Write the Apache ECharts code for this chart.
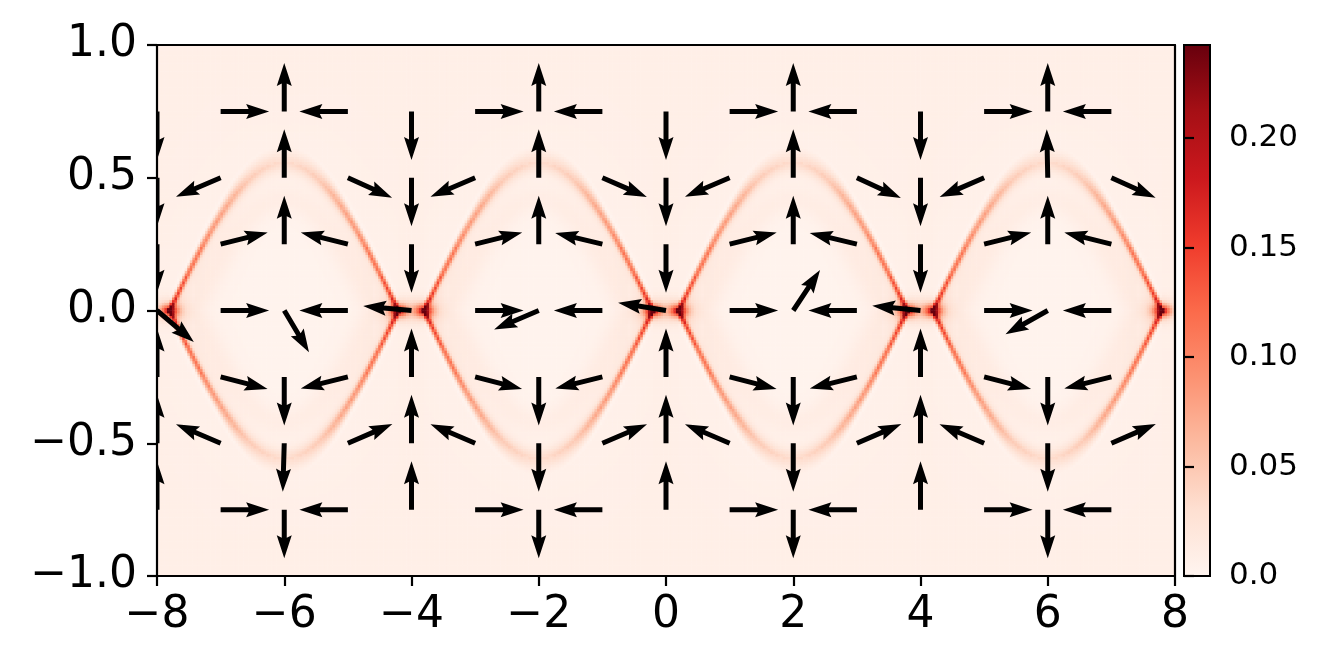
<!DOCTYPE html>
<html>
<head>
<meta charset="utf-8">
<title>field with quiver</title>
<script src="https://cdn.jsdelivr.net/npm/echarts@6.0.0/dist/echarts.min.js"></script>
<style>
  html, body { margin: 0; padding: 0; background: #fff; }
  #chart { width: 1333px; height: 666px; }
</style>
</head>
<body>
<div id="chart"></div>
<script>
// ---- quiver arrows (directions, rows top to bottom) ----
const qx = [-8, -7, -6, -5, -4, -3, -2, -1, 0, 1, 2, 3, 4, 5, 6, 7];
const qy = [0.75, 0.5, 0.25, 0, -0.25, -0.5, -0.75];
const qu = [
  [0, 1, 0, -1, 0, 1, 0, -1, 0, 1, 0, -1, 0, 1, 0, -1],
  [0, -0.92, 0, 0.91, 0, -0.92, 0, 0.92, 0, -0.92, 0, 0.91, 0, -0.92, -0.02, 0.91],
  [0, 0.97, 0, -0.97, 0, 0.97, 0, -0.97, 0, 0.97, 0, -0.97, 0, 0.97, 0, -0.97],
  [0.76, 1, 0.51, -1, -0.99, 1, -0.92, -1, -0.99, 1, 0.55, -1, -0.99, 1, -0.87, -1],
  [0, 0.97, 0, -0.97, 0, 0.97, 0, -0.97, 0, 0.97, 0, -0.97, 0, 0.97, 0, -0.97],
  [0, -0.92, -0.03, 0.92, 0, -0.92, 0, 0.92, 0, -0.92, 0, 0.92, 0, -0.92, 0, 0.92],
  [0, 1, 0, -1, 0, 1, 0, -1, 0, 1, 0, -1, 0, 1, 0, -1]
];
const qv = [
  [-1, 0, 1, 0, -1, 0, 1, 0, -1, 0, 1, 0, -1, 0, 1, 0],
  [-1, -0.39, 1, -0.41, -1, -0.39, 1, -0.40, -1, -0.39, 1, -0.42, -1, -0.40, 1, -0.41],
  [-1, 0.24, 1, 0.24, -1, 0.24, 1, 0.23, -1, 0.24, 1, 0.23, -1, 0.24, 1, 0.24],
  [-0.65, 0, -0.86, 0, 0.09, 0, -0.39, 0, 0.16, 0, 0.83, 0, 0.10, 0, -0.49, 0],
  [1, -0.25, -1, -0.24, 1, -0.25, -1, -0.24, 1, -0.25, -1, -0.24, 1, -0.25, -1, -0.24],
  [1, 0.39, -1, 0.40, 1, 0.39, -1, 0.39, 1, 0.39, -1, 0.40, 1, 0.39, -1, 0.40],
  [1, 0, -1, 0, 1, 0, -1, 0, 1, 0, -1, 0, 1, 0, -1, 0]
];

const eyeCenters = [-6, -2, 2, 6];
const eyeHalfWidth = 1.8;      // arcs meet at center +- 1.8 (hot spots)
const eyeHeight = 0.56;        // top of each arc
const innerHalfWidth = 1.4;    // faint inner ring
const innerHeight = 0.42;
const innerPeak = 0.007;
const arcT = [0, 0.3, 0.6, 0.85, 1];            // 0 = top of arc, 1 = hot spot
const arcPeak = [0.022, 0.035, 0.07, 0.11, 0.14];
const arcSigma = [7, 5, 2.6, 1.9, 1.8];         // px
const arcDip = [0, 0.003, 0.007, 0.008, 0.008];
const bgInside = 0.003;
const bgOutside = 0.009;
const spotPeak = 0.14;
const spotHalo = 0.045;
const vmax = 0.2425;

// ---- ticks ----
const xTicks = [-8, -6, -4, -2, 0, 2, 4, 6, 8];
const xTickLabels = ['\u22128', '\u22126', '\u22124', '\u22122', '0', '2', '4', '6', '8'];
const yTicks = [-1, -0.5, 0, 0.5, 1];
const yTickLabels = ['\u22121.0', '\u22120.5', '0.0', '0.5', '1.0'];
const cbTicks = [0, 0.05, 0.1, 0.15, 0.2];
const cbTickLabels = ['0.0', '0.05', '0.10', '0.15', '0.20'];
const reds = ['#fff5f0', '#fee0d2', '#fcbba1', '#fc9272', '#fb6a4a', '#ef3b2c', '#cb181d', '#a50f15', '#67000d'];

// ---- layout ----
const G = { left: 157, top: 45, width: 1018, height: 531 };
const CB = { left: 1184, top: 45, width: 26, height: 531 };
const KX = G.width / 16, KY = G.height / 2;   // px per data unit
const NX = 400, NY = 200;

function lookup(ts, vs, t) {
  for (let k = 1; k < ts.length; k++) {
    if (t <= ts[k]) {
      const f = (t - ts[k - 1]) / (ts[k] - ts[k - 1]);
      return vs[k - 1] + f * (vs[k] - vs[k - 1]);
    }
  }
  return vs[vs.length - 1];
}

// signed px distance to an arc (positive outside)
function arcDist(dx, ay, W, H) {
  const X = dx * KX, Y = ay * KY, Wp = W * KX, Hp = H * KY;
  if (Math.abs(X) >= Wp) return Math.hypot(Math.abs(X) - Wp, Y);
  const a = Math.PI / 2 * X / Wp;
  const yc = Hp * Math.cos(a);
  const s = Hp * Math.sin(a) * Math.PI / (2 * Wp);
  return (Y - yc) / Math.sqrt(1 + s * s);
}

function field(x, y) {
  let c = eyeCenters[0];
  for (const e of eyeCenters) if (Math.abs(x - e) < Math.abs(x - c)) c = e;
  const dx = x - c, ay = Math.abs(y);
  const t = Math.min(Math.abs(dx) / eyeHalfWidth, 1);
  const d = arcDist(dx, ay, eyeHalfWidth, eyeHeight);
  const p = lookup(arcT, arcPeak, t);
  const s = lookup(arcT, arcSigma, t);
  const dip = lookup(arcT, arcDip, t);
  let v = bgInside + (bgOutside - bgInside) / (1 + Math.exp(-d / 25));
  v += p * Math.exp(-0.5 * (d / s) ** 2);
  if (d < 0) v += p * 0.2 * Math.exp(d / 14);
  v -= dip * Math.exp(-0.5 * ((d - 2.4 * s) / 1.3) ** 2);
  const d2 = arcDist(dx, ay, innerHalfWidth, innerHeight);
  v += innerPeak * Math.exp(-0.5 * (d2 / 9) ** 2);
  for (const e of eyeCenters) {
    for (const sg of [-1, 1]) {
      const ex = (x - (e + sg * eyeHalfWidth)) * KX, ey = y * KY;
      v += spotPeak * Math.exp(-0.5 * ((ex / 5.5) ** 2 + (ey / 3.8) ** 2));
      v += spotHalo * Math.exp(-0.5 * ((ex / 11) ** 2 + (ey / 8) ** 2));
    }
  }
  return Math.max(0, Math.min(vmax, v));
}

const heat = [];
for (let i = 0; i < NX; i++) {
  const x = -8 + (i + 0.5) * 16 / NX;
  for (let j = 0; j < NY; j++) {
    const y = -1 + (j + 0.5) * 2 / NY;
    heat.push([i, j, field(x, y)]);
  }
}
const xCats = Array.from({ length: NX }, (_, i) => i);
const yCats = Array.from({ length: NY }, (_, j) => j);

const arrows = [];
qy.forEach((y, r) => qx.forEach((x, c) => arrows.push([x, y, qu[r][c], qv[r][c]])));

const fmt = (ticks, labels) => (val) => {
  const k = ticks.findIndex(t => Math.abs(t - val) < 1e-9);
  return k < 0 ? '' : labels[k];
};

const font = 'DejaVu Sans';
const black = '#000';

// quiver arrow shape (matplotlib proportions)
const SHAFT = 5, LEN = 48.5;
function renderArrow(params, api) {
  const p = api.coord([api.value(0), api.value(1)]);
  const u = api.value(2), v = api.value(3);
  const n = Math.hypot(u, v) || 1;
  const ux = u / n, uy = -v / n;
  const nx = -uy, ny = ux;
  const w = SHAFT / 2, hw = SHAFT * 1.5, hl = SHAFT * 4.6, hal = SHAFT * 4.1;
  const pts = [[0, -w], [LEN - hal, -w], [LEN - hl, -hw], [LEN, 0], [LEN - hl, hw], [LEN - hal, w], [0, w]]
    .map(([a, b]) => [p[0] + ux * a + nx * b, p[1] + uy * a + ny * b]);
  return { type: 'polygon', shape: { points: pts }, style: { fill: black } };
}

function renderBar(params, api) {
  const p0 = api.coord([api.value(0), api.value(1)]);
  const p1 = api.coord([api.value(2), api.value(3)]);
  const stops = reds.map((c, k) => ({ offset: k / (reds.length - 1), color: c }));
  return {
    type: 'rect',
    shape: { x: p0[0], y: p1[1], width: p1[0] - p0[0], height: p0[1] - p1[1] },
    style: { fill: new echarts.graphic.LinearGradient(0, 1, 0, 0, stops), stroke: black, lineWidth: 2 }
  };
}

const spine = { show: true, onZero: false, lineStyle: { color: black, width: 2.2 } };
const tick = { show: true, inside: false, length: 10, lineStyle: { color: black, width: 2.2 } };

const chart = echarts.init(document.getElementById('chart'), null, { renderer: 'canvas' });
chart.setOption({
  animation: false,
  backgroundColor: '#fff',
  grid: [
    Object.assign({ containLabel: false }, G),
    Object.assign({ containLabel: false }, G),
    Object.assign({ containLabel: false }, CB)
  ],
  xAxis: [
    { type: 'category', gridIndex: 0, data: xCats, show: false },
    {
      type: 'value', gridIndex: 1, min: -8, max: 8, interval: 2, z: 10,
      axisLine: spine, axisTick: Object.assign({ customValues: xTicks }, tick),
      axisLabel: { customValues: xTicks, formatter: fmt(xTicks, xTickLabels), fontSize: 44, fontFamily: font, color: black, margin: 18 },
      splitLine: { show: false }
    },
    {
      type: 'value', gridIndex: 1, min: -8, max: 8, position: 'top', z: 10,
      axisLine: spine, axisTick: { show: false }, axisLabel: { show: false }, splitLine: { show: false }
    },
    { type: 'value', gridIndex: 2, min: 0, max: 1, show: false }
  ],
  yAxis: [
    { type: 'category', gridIndex: 0, data: yCats, show: false },
    {
      type: 'value', gridIndex: 1, min: -1, max: 1, interval: 0.5, z: 10,
      axisLine: spine, axisTick: Object.assign({ customValues: yTicks }, tick),
      axisLabel: { customValues: yTicks, formatter: fmt(yTicks, yTickLabels), fontSize: 44, fontFamily: font, color: black, margin: 20 },
      splitLine: { show: false }
    },
    {
      type: 'value', gridIndex: 1, min: -1, max: 1, position: 'right', z: 10,
      axisLine: spine, axisTick: { show: false }, axisLabel: { show: false }, splitLine: { show: false }
    },
    {
      type: 'value', gridIndex: 2, min: 0, max: vmax, position: 'right', z: 10,
      axisLine: { show: false },
      axisTick: Object.assign({ customValues: cbTicks }, tick),
      axisLabel: { customValues: cbTicks, formatter: fmt(cbTicks, cbTickLabels), fontSize: 31, fontFamily: font, color: black, margin: 19 },
      splitLine: { show: false }
    }
  ],
  visualMap: {
    type: 'continuous', show: false, min: 0, max: vmax, dimension: 2, seriesIndex: 0,
    inRange: { color: reds }
  },
  series: [
    {
      type: 'heatmap', xAxisIndex: 0, yAxisIndex: 0, data: heat,
      progressive: 0, silent: true, z: 1, emphasis: { disabled: true }
    },
    {
      type: 'custom', xAxisIndex: 1, yAxisIndex: 1, data: arrows, renderItem: renderArrow,
      clip: true, silent: true, z: 5
    },
    {
      type: 'custom', xAxisIndex: 3, yAxisIndex: 3, data: [[0, 0, 1, vmax]], renderItem: renderBar,
      silent: true, z: 5
    }
  ]
});
</script>
</body>
</html>
